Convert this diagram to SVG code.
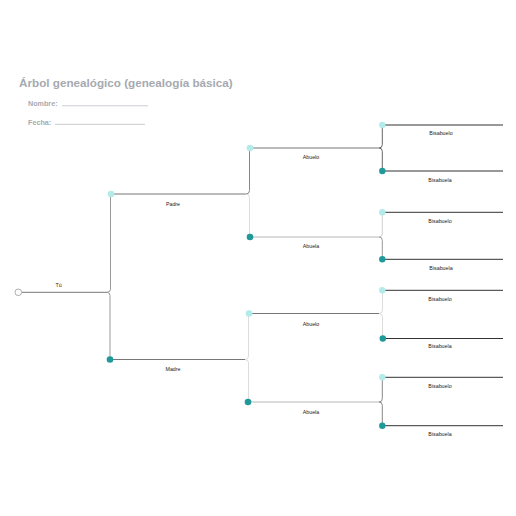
<svg xmlns="http://www.w3.org/2000/svg" width="516" height="516" viewBox="0 0 516 516">
<style>
.title{font-family:"Liberation Sans",Arial,sans-serif;font-weight:bold;font-size:11.7px;fill:#a6aab1}
.field{font-family:"Liberation Sans",Arial,sans-serif;font-weight:bold;font-size:7.2px;fill:#a6aab1}
.fline{stroke:#a6aab1;stroke-width:0.6;fill:none}
.lbl{font-family:"Liberation Sans",Arial,sans-serif;font-size:5.3px;fill:#222;text-anchor:middle}
.m{fill:#b3ebeb}
.f{fill:#20999a}
.pl{stroke:#777;stroke-width:1;fill:none}
.plL{stroke:#cfcfcf;stroke-width:1.6;fill:none}
.gl{stroke:#333;stroke-width:1;fill:none}
.c{fill:none;stroke-width:1}
</style>
<rect width="516" height="516" fill="#fff"/>
<g id="header">
<text class="title" x="19" y="87">Árbol genealógico (genealogía básica)</text>
<text class="field" x="28" y="106">Nombre:</text>
<line class="fline" x1="62" y1="105.8" x2="148" y2="105.8"/>
<text class="field" x="28" y="124.5">Fecha:</text>
<line class="fline" x1="55" y1="124.3" x2="145" y2="124.3"/>
</g>
<g id="connectors">
<path class="c" stroke="#777" d="M21.8,292.3 H107"/>
<path class="c" stroke="#999" d="M107,292.3 Q110.5,292.3 110.5,289 V194"/>
<path class="c" stroke="#999" d="M107,292.3 Q110,292.3 110,295.5 V359.5"/>
<path class="c" stroke="#888" d="M246,194 Q249.5,194 249.5,190.5 V148"/>
<path class="c" stroke="#dcdcdc" stroke-width="1.6" d="M246,194 Q249.5,194 249.5,197.5 V237"/>
<path class="c" stroke="#dcdcdc" stroke-width="1.6" d="M245,359.5 Q248.5,359.5 248.5,356 V313.5"/>
<path class="c" stroke="#dcdcdc" stroke-width="1.6" d="M245,359.5 Q248.5,359.5 248.5,363 V402"/>
<path class="c" stroke="#666" d="M379,148 Q382.3,148 382.3,144.7 V125"/>
<path class="c" stroke="#666" d="M379,148 Q382.3,148 382.3,151.3 V171"/>
<path class="c" stroke="#cfcfcf" d="M379,237 Q382.3,237 382.3,233.7 V212.3"/>
<path class="c" stroke="#999" d="M379,237 Q382.3,237 382.3,240.3 V259.3"/>
<path class="c" stroke="#dcdcdc" stroke-width="1.4" d="M379,313.5 Q382.5,313.5 382.5,310 V290.3"/>
<path class="c" stroke="#dcdcdc" stroke-width="1.4" d="M379,313.5 Q382.5,313.5 382.5,317 V338.5"/>
<path class="c" stroke="#888" d="M379,402 Q382.3,402 382.3,398.7 V377.3"/>
<path class="c" stroke="#888" d="M379,402 Q382.3,402 382.3,405.3 V425.7"/>
</g>
<g id="tu">
<circle cx="18.3" cy="292.3" r="3.3" fill="#fff" stroke="#999" stroke-width="0.8"/>
<text class="lbl" x="58.7" y="287">Tú</text>
</g>
<g id="padre">
<line class="pl" x1="111" y1="194" x2="246" y2="194"/>
<circle class="m" cx="111" cy="194" r="3.3"/>
<text class="lbl" x="173" y="206">Padre</text>
</g>
<g id="madre">
<line class="pl" x1="110" y1="359.5" x2="245" y2="359.5"/>
<circle class="f" cx="110" cy="359.5" r="3.3"/>
<text class="lbl" x="173" y="371">Madre</text>
</g>
<g id="abuelo-p">
<line class="pl" x1="250" y1="148" x2="379" y2="148"/>
<circle class="m" cx="250" cy="148" r="3.3"/>
<text class="lbl" x="311" y="159">Abuelo</text>
</g>
<g id="abuela-p">
<line class="plL" x1="250" y1="237" x2="379" y2="237"/>
<circle class="f" cx="250" cy="237" r="3.3"/>
<text class="lbl" x="311" y="248">Abuela</text>
</g>
<g id="abuelo-m">
<line class="pl" x1="249" y1="313.5" x2="379" y2="313.5"/>
<circle class="m" cx="249" cy="313.5" r="3.3"/>
<text class="lbl" x="311" y="326">Abuelo</text>
</g>
<g id="abuela-m">
<line class="plL" x1="248" y1="402" x2="379" y2="402"/>
<circle class="f" cx="248" cy="402" r="3.3"/>
<text class="lbl" x="311" y="414">Abuela</text>
</g>
<g id="bis1"><line class="gl" x1="382.3" y1="125" x2="503" y2="125"/><circle class="m" cx="382.3" cy="125" r="3.2"/><text class="lbl" x="441" y="135.3">Bisabuelo</text></g>
<g id="bis2"><line class="gl" x1="382.3" y1="171" x2="503" y2="171"/><circle class="f" cx="382.3" cy="171" r="3.2"/><text class="lbl" x="440" y="181.8">Bisabuela</text></g>
<g id="bis3"><line class="gl" x1="382.3" y1="212.3" x2="503" y2="212.3"/><circle class="m" cx="382.3" cy="212.3" r="3.2"/><text class="lbl" x="440" y="222.5">Bisabuelo</text></g>
<g id="bis4"><line class="gl" x1="382.3" y1="259.3" x2="503" y2="259.3"/><circle class="f" cx="382.3" cy="259.3" r="3.2"/><text class="lbl" x="441" y="270">Bisabuela</text></g>
<g id="bis5"><line class="gl" x1="382.3" y1="290.3" x2="503" y2="290.3"/><circle class="m" cx="382.3" cy="290.3" r="3.2"/><text class="lbl" x="440" y="300.8">Bisabuelo</text></g>
<g id="bis6"><line class="gl" x1="382.8" y1="338.5" x2="503" y2="338.5"/><circle class="f" cx="382.8" cy="338.5" r="3.2"/><text class="lbl" x="440" y="348.3">Bisabuela</text></g>
<g id="bis7"><line class="gl" x1="382.3" y1="377.3" x2="503" y2="377.3"/><circle class="m" cx="382.3" cy="377.3" r="3.2"/><text class="lbl" x="440" y="387.8">Bisabuelo</text></g>
<g id="bis8"><line class="gl" x1="382.3" y1="425.7" x2="503" y2="425.7"/><circle class="f" cx="382.3" cy="425.7" r="3.2"/><text class="lbl" x="440" y="435.8">Bisabuela</text></g>
</svg>
